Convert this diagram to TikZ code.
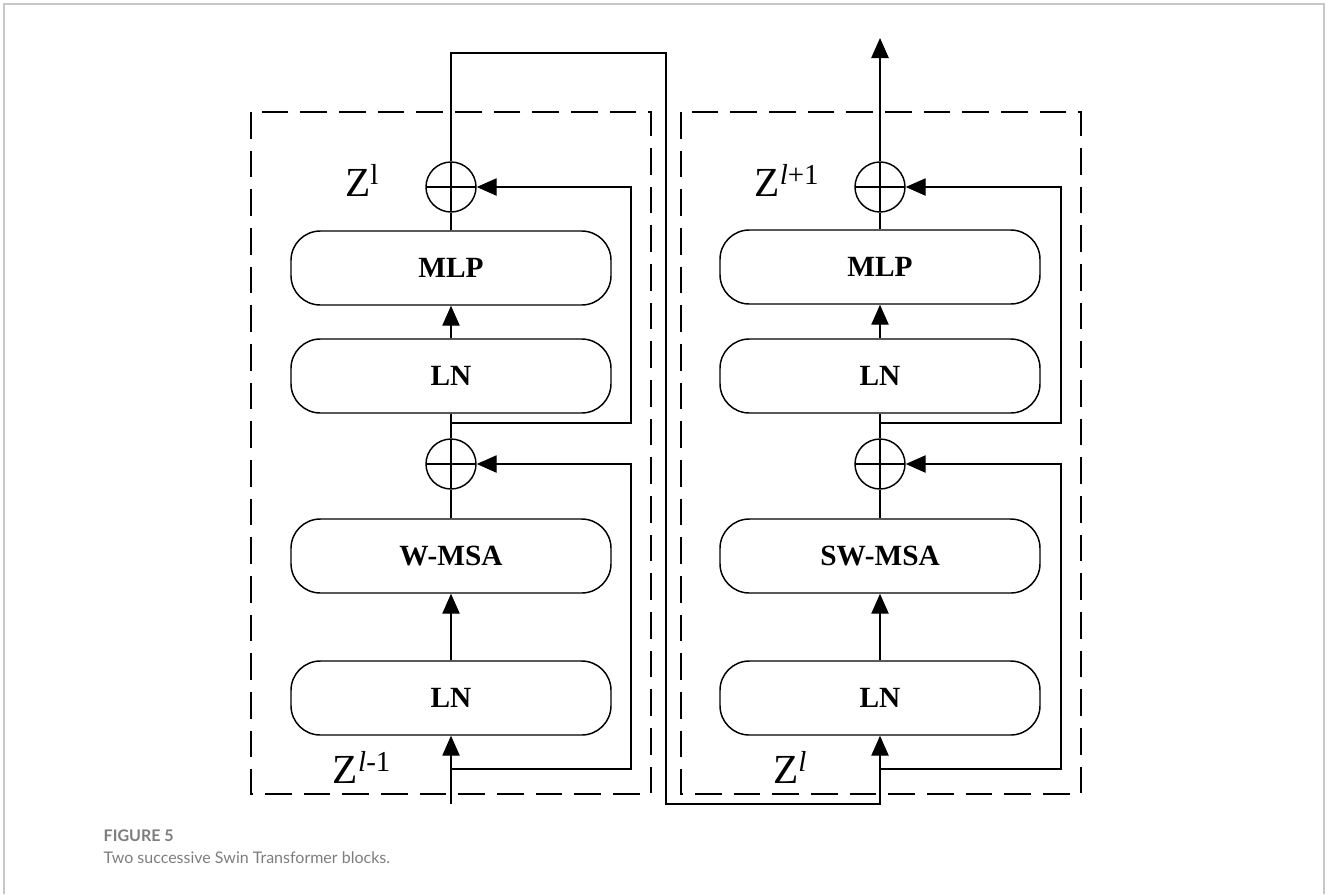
\documentclass[tikz,border=0pt]{standalone}
\usepackage{fontspec}
\setmainfont{Liberation Serif}
\newfontfamily\capfont{Lato}
\usetikzlibrary{arrows.meta,calc}
\definecolor{framegray}{RGB}{200,200,200}
\definecolor{capgray}{RGB}{125,125,125}
\begin{document}
\begin{tikzpicture}[x=0.75pt,y=-0.75pt,
  line width=1.1pt,
  blk/.style={draw,rounded corners=22pt,minimum width=240pt,minimum height=55.5pt,inner sep=0pt,font=\fontsize{22}{24}\selectfont\bfseries},
  sumc/.style={draw,circle,minimum size=37.5pt,inner sep=0pt,
    path picture={\draw (path picture bounding box.north) -- (path picture bounding box.south)
      (path picture bounding box.west) -- (path picture bounding box.east);}},
  arr/.style={-{Triangle[length=15pt,width=13pt]}},
  dbox/.style={dash pattern=on 20pt off 9pt, line width=1pt},
  zlab/.style={font=\fontsize{31}{33}\selectfont, inner sep=0pt}
]
\useasboundingbox (0,0) rectangle (1328,894);
% frame
\draw[framegray,line width=1pt] (4,894) -- (4,4) -- (1324,4) -- (1324,894);
% dashed boxes
\draw[dbox] (251,112) rectangle (651,794);
\draw[dbox] (681,112) rectangle (1081,794);
% left block
\node[blk] (mlpA) at (451,268) {MLP};
\node[blk] (ln2A) at (451,376) {LN};
\node[blk] (msaA) at (451,556) {W-MSA};
\node[blk] (ln1A) at (451,698) {LN};
\node[sumc] (s2A) at (451,187) {};
\node[sumc] (s1A) at (451,464) {};
% right block
\node[blk] (mlpB) at (880,267) {MLP};
\node[blk] (ln2B) at (880,376) {LN};
\node[blk] (msaB) at (880,556) {SW-MSA};
\node[blk] (ln1B) at (880,698) {LN};
\node[sumc] (s2B) at (880,187) {};
\node[sumc] (s1B) at (880,464) {};
% coordinates
\coordinate (inA) at (451,804);
\coordinate (brA1) at (451,769);
\coordinate (kA1) at (631,464);
\coordinate (brA2) at (451,423);
\coordinate (kA2) at (631,187);
\coordinate (tA) at (451,53);
\coordinate (tM) at (666,53);
\coordinate (bM) at (666,804);
\coordinate (brB1) at (880,769);
\coordinate (kB1) at (1061,464);
\coordinate (brB2) at (880,423);
\coordinate (kB2) at (1061,187);
\coordinate (outB) at (880,38);
% left connectors
\draw[arr] (inA) -- (ln1A.south);
\draw[arr] (brA1) -| (kA1) -- (s1A.east);
\draw[arr] (ln1A.north) -- (msaA.south);
\draw (msaA.north) -- (s1A.south);
\draw (s1A.north) -- (ln2A.south);
\draw[arr] (brA2) -| (kA2) -- (s2A.east);
\draw[arr] (ln2A.north) -- (mlpA.south);
\draw (mlpA.north) -- (s2A.south);
% link
\draw[arr] (s2A.north) -- (tA) -- (tM) -- (bM) -| (ln1B.south);
% right connectors
\draw[arr] (brB1) -| (kB1) -- (s1B.east);
\draw[arr] (ln1B.north) -- (msaB.south);
\draw (msaB.north) -- (s1B.south);
\draw (s1B.north) -- (ln2B.south);
\draw[arr] (brB2) -| (kB2) -- (s2B.east);
\draw[arr] (ln2B.north) -- (mlpB.south);
\draw (mlpB.north) -- (s2B.south);
\draw[arr] (s2B.north) -- (outB);
% labels
\node[zlab] (zA) at (362,180) {Z\textsuperscript{l}};
\node[zlab] (zB) at (362,767) {Z\textsuperscript{\textit{l}-1}};
\node[zlab] (zC) at (790,767) {Z\textsuperscript{\textit{l}}};
\node[zlab] (zD) at (787,180) {Z\textsuperscript{\textit{l}+1}};
% caption
\node[anchor=west,inner sep=0pt,text=capgray,font=\capfont\fontsize{12}{14}\selectfont\bfseries] (cap1) at (103,836) {FIGURE 5};
\node[anchor=west,inner sep=0pt,text=capgray,font=\capfont\fontsize{12}{14}\selectfont] (cap2) at (103,858) {Two successive Swin Transformer blocks.};
\end{tikzpicture}
\end{document}
